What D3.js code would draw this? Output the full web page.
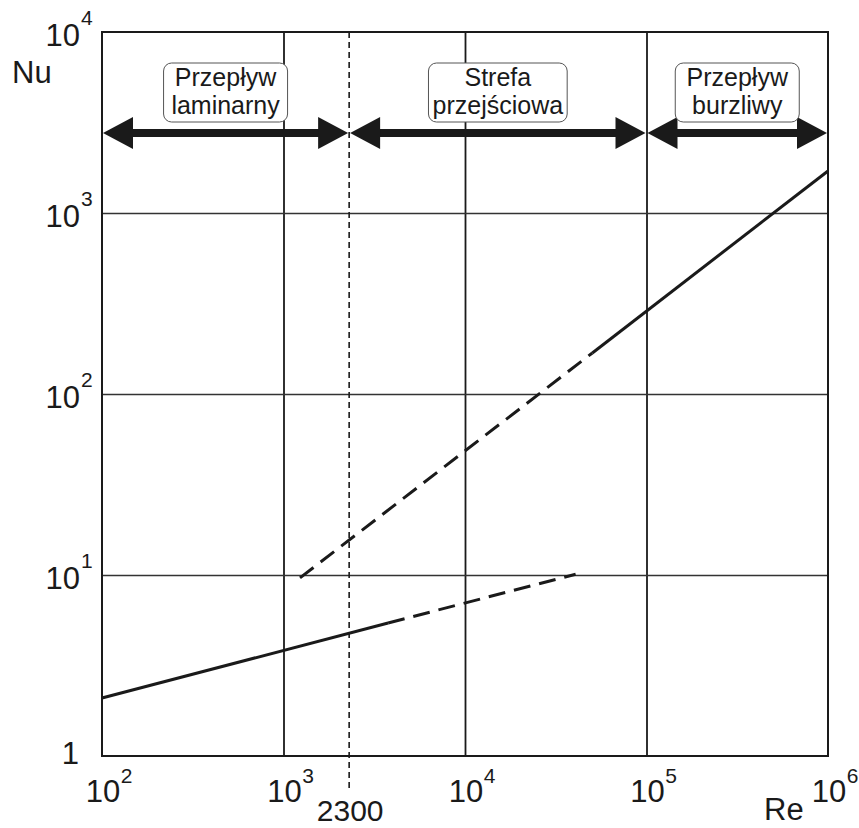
<!DOCTYPE html>
<html>
<head>
<meta charset="utf-8">
<script src="https://cdn.jsdelivr.net/npm/d3@7"></script>
<style>
  body { margin: 0; background: #fff; }
  text { font-family: 'Liberation Sans', Arial, sans-serif; fill: #1a1a1a; }
</style>
</head>
<body>
<svg id="chart" width="859" height="828"></svg>
<script>
// tick values (powers of ten)
const xTicks = [1e2, 1e3, 1e4, 1e5, 1e6];
const yTicks = [1, 1e1, 1e2, 1e3, 1e4];
const criticalRe = 2300;

// [Re, Nu] points
const laminarSolid = [[100, 2.09], [3770, 5.43]];
const laminarDashed = [[3770, 5.43], [40700, 10.1]];
const turbulentDashed = [[1233, 9.64], [50300, 168.6]];
const turbulentSolid = [[50300, 168.6], [1e6, 1707]];

// flow regimes shown as arrows across the top
const regimeLabels = [['Przepływ', 'laminarny'], ['Strefa', 'przejściowa'], ['Przepływ', 'burzliwy']];
const regimeBounds = [[1e2, 2300], [2300, 1e5], [1e5, 1e6]];

const ink = '#1a1a1a';
const margin = { left: 102, right: 31, top: 32, bottom: 72 };
const svg = d3.select('#chart');
const width = +svg.attr('width');
const height = +svg.attr('height');
const innerW = width - margin.left - margin.right;
const innerH = height - margin.top - margin.bottom;

const x = d3.scaleLog().domain([1e2, 1e6]).range([margin.left, margin.left + innerW]);
const y = d3.scaleLog().domain([1, 1e4]).range([margin.top + innerH, margin.top]);

// grid lines via axes
svg.append('g')
  .attr('transform', `translate(0,${margin.top + innerH})`)
  .call(d3.axisBottom(x).tickValues(xTicks.slice(1, -1)).tickSize(innerH).tickFormat(''))
  .call((g) => g.select('.domain').remove())
  .call((g) => g.selectAll('line').attr('y2', -innerH).attr('stroke', ink).attr('stroke-width', 1.8));

svg.append('g')
  .attr('transform', `translate(${margin.left},0)`)
  .call(d3.axisLeft(y).tickValues(yTicks.slice(1, -1)).tickSize(-innerW).tickFormat(''))
  .call((g) => g.select('.domain').remove())
  .call((g) => g.selectAll('line').attr('stroke', '#333').attr('stroke-width', 1.6));

// Re = 2300 boundary
svg.append('line')
  .attr('x1', x(criticalRe)).attr('x2', x(criticalRe))
  .attr('y1', margin.top).attr('y2', margin.top + innerH + 35)
  .attr('stroke', ink).attr('stroke-width', 1.6)
  .attr('stroke-dasharray', '6,4');

// plot frame
svg.append('rect')
  .attr('x', margin.left).attr('y', margin.top)
  .attr('width', innerW).attr('height', innerH)
  .attr('fill', 'none').attr('stroke', ink).attr('stroke-width', 2);

// curves
const line = d3.line().x((d) => x(d[0])).y((d) => y(d[1]));
[
  [laminarSolid, null],
  [laminarDashed, '17,9'],
  [turbulentDashed, '17,9'],
  [turbulentSolid, null],
].forEach(([pts, dash]) => {
  svg.append('path')
    .attr('d', line(pts))
    .attr('fill', 'none')
    .attr('stroke', ink)
    .attr('stroke-width', 3)
    .attr('stroke-dasharray', dash);
});

// regime arrows
const arrowY = 133;
const headLen = 30;
const headHalf = 16;
const arrows = svg.append('g');
regimeBounds.forEach(([a, b]) => {
  const x1 = x(a) + 1;
  const x2 = x(b) - 1;
  arrows.append('line')
    .attr('x1', x1 + headLen - 4).attr('x2', x2 - headLen + 4)
    .attr('y1', arrowY).attr('y2', arrowY)
    .attr('stroke', ink).attr('stroke-width', 8);
  arrows.append('path')
    .attr('d', `M${x1},${arrowY}L${x1 + headLen},${arrowY - headHalf}L${x1 + headLen},${arrowY + headHalf}Z`)
    .attr('fill', ink);
  arrows.append('path')
    .attr('d', `M${x2},${arrowY}L${x2 - headLen},${arrowY - headHalf}L${x2 - headLen},${arrowY + headHalf}Z`)
    .attr('fill', ink);
});

// regime label boxes
regimeLabels.forEach((lines, i) => {
  const cx = (x(regimeBounds[i][0]) + x(regimeBounds[i][1])) / 2;
  const g = svg.append('g');
  const box = g.append('rect');
  const t = g.append('text')
    .attr('text-anchor', 'middle')
    .style('font-size', '25px');
  lines.forEach((s, j) => {
    t.append('tspan').attr('x', cx).attr('y', 86 + j * 28).text(s);
  });
  const bb = t.node().getBBox();
  const w = Math.max(bb.width + 8, 124);
  box.attr('x', cx - w / 2).attr('y', 63)
    .attr('width', w).attr('height', 59)
    .attr('rx', 8)
    .attr('fill', '#fff').attr('stroke', '#555').attr('stroke-width', 1);
});

// tick labels with superscripts
const exp = (v) => Math.round(Math.log10(v));

yTicks.forEach((v) => {
  const py = y(v);
  if (exp(v) === 0) {
    svg.append('text').attr('x', 79).attr('y', py + 8)
      .attr('text-anchor', 'end').style('font-size', '31px').text('1');
    return;
  }
  svg.append('text').attr('x', 80).attr('y', py + 14)
    .attr('text-anchor', 'end').style('font-size', '31px').text('10');
  svg.append('text').attr('x', 81).attr('y', py - 7)
    .style('font-size', '21px').text(exp(v));
});

xTicks.forEach((v) => {
  const px = x(v) + 1;
  const main = svg.append('text').attr('x', px).attr('y', 802)
    .attr('text-anchor', 'middle').style('font-size', '31px').text('10');
  const half = main.node().getComputedTextLength() / 2;
  svg.append('text').attr('x', px + half + 0.5).attr('y', 783)
    .style('font-size', '21px').text(exp(v));
});

svg.append('text').attr('x', x(criticalRe) + 1).attr('y', 821)
  .attr('text-anchor', 'middle').style('font-size', '30px').text('2300');

// axis titles
svg.append('text').attr('x', 764).attr('y', 820).style('font-size', '31px').text('Re');
svg.append('text').attr('x', 12).attr('y', 83).style('font-size', '31px').text('Nu');
</script>
</body>
</html>
